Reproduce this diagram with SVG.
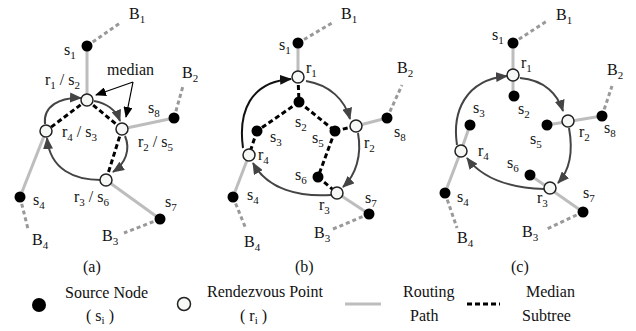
<svg xmlns="http://www.w3.org/2000/svg" width="636" height="331" viewBox="0 0 636 331">
<style>
text{font-family:"Liberation Serif","Times New Roman",serif;font-size:16px;fill:#111}
.sub{font-size:11px}
.route{stroke:#bdbdbd;stroke-width:3;fill:none}
.bline{stroke:#999;stroke-width:3;stroke-dasharray:4 3;fill:none}
.med{stroke:#000;stroke-width:3;stroke-dasharray:5 3;fill:none}
.arc{stroke:#444;stroke-width:2;fill:none;marker-end:url(#ah)}
.arcb{stroke:#111;stroke-width:2;fill:none;marker-end:url(#ahb)}
.src{fill:#000}
.rp{fill:#f6f8f6;stroke:#222;stroke-width:1.5}
.ptr{stroke:#000;stroke-width:1.2;fill:none;marker-end:url(#ahs)}
</style>
<defs>
<marker id="ah" markerUnits="userSpaceOnUse" markerWidth="12" markerHeight="10" refX="11" refY="5" orient="auto"><path d="M0,0 L12,5 L0,10 z" fill="#444"/></marker>
<marker id="ahb" markerUnits="userSpaceOnUse" markerWidth="12" markerHeight="10" refX="11" refY="5" orient="auto"><path d="M0,0 L12,5 L0,10 z" fill="#111"/></marker>
<marker id="ahs" markerUnits="userSpaceOnUse" markerWidth="11" markerHeight="9" refX="10" refY="4.5" orient="auto"><path d="M0,0 L11,4.5 L0,9 z" fill="#000"/></marker>
</defs>

<!-- connectors -->
<g id="connectors">
  <!-- panel a -->
  <line class="bline" x1="87" y1="46" x2="120" y2="23"/>
  <line class="bline" x1="174" y1="118" x2="183" y2="86"/>
  <line class="bline" x1="20" y1="197" x2="28" y2="229"/>
  <line class="bline" x1="160" y1="219" x2="124" y2="233"/>
  <line class="route" x1="87" y1="46" x2="87" y2="100"/>
  <line class="route" x1="122" y1="129" x2="174" y2="118"/>
  <line class="route" x1="46" y1="131" x2="20" y2="197"/>
  <line class="route" x1="106" y1="180" x2="160" y2="219"/>
  <line class="med" x1="87" y1="100" x2="46" y2="131"/>
  <line class="med" x1="87" y1="100" x2="122" y2="129"/>
  <line class="med" x1="122" y1="129" x2="106" y2="180"/>
  <path class="arc" d="M45 124 C43 106 60 97 81 98"/>
  <path class="arc" d="M94 101 C106 103 116 110 120 121"/>
  <path class="arc" d="M125 136 C131 150 125 164 113 172"/>
  <path class="arc" d="M101 180 C75 180 50 170 47 138"/>
  <path class="ptr" d="M133 82 L96 95"/>
  <path class="ptr" d="M133 82 L126 117"/>
  <!-- panel b -->
  <line class="bline" x1="298" y1="43" x2="332" y2="23"/>
  <line class="bline" x1="387" y1="118" x2="402" y2="85"/>
  <line class="bline" x1="233" y1="197" x2="246" y2="229"/>
  <line class="bline" x1="369" y1="214" x2="333" y2="229"/>
  <line class="route" x1="298" y1="43" x2="298" y2="77"/>
  <line class="route" x1="356" y1="126" x2="387" y2="118"/>
  <line class="route" x1="249" y1="155" x2="233" y2="197"/>
  <line class="route" x1="337" y1="193" x2="369" y2="214"/>
  <line class="med" x1="298" y1="77" x2="299" y2="102"/>
  <line class="med" x1="299" y1="102" x2="257" y2="131"/>
  <line class="med" x1="257" y1="131" x2="249" y2="155"/>
  <line class="med" x1="299" y1="102" x2="335" y2="131"/>
  <line class="med" x1="335" y1="131" x2="356" y2="126"/>
  <line class="med" x1="335" y1="131" x2="318" y2="177"/>
  <line class="med" x1="318" y1="177" x2="337" y2="193"/>
  <path class="arcb" d="M243 148 C238 112 250 82 291 79"/>
  <path class="arc" d="M306 81 C330 85 345 100 350 119"/>
  <path class="arc" d="M358 133 C362 155 356 175 343 187"/>
  <path class="arc" d="M331 195 C300 197 268 190 253 163"/>
  <!-- panel c -->
  <line class="bline" x1="513" y1="43" x2="547" y2="21"/>
  <line class="bline" x1="602" y1="116" x2="612" y2="86"/>
  <line class="bline" x1="445" y1="193" x2="457" y2="228"/>
  <line class="bline" x1="583" y1="212" x2="547" y2="229"/>
  <line class="route" x1="513" y1="43" x2="513" y2="96"/>
  <line class="route" x1="461" y1="151" x2="470" y2="125"/>
  <line class="route" x1="461" y1="151" x2="445" y2="193"/>
  <line class="route" x1="547" y1="125" x2="602" y2="116"/>
  <line class="route" x1="530" y1="175" x2="583" y2="212"/>
  <path class="arc" d="M457 145 C452 112 465 80 507 76"/>
  <path class="arc" d="M520 78 C545 80 558 95 563 111"/>
  <path class="arc" d="M569 128 C573 150 570 170 558 183"/>
  <path class="arc" d="M544 189 C510 188 482 178 467 158"/>
</g>

<!-- panel a nodes -->
<g id="a-s1"><circle class="src" cx="87" cy="46" r="5.5"/><text x="64" y="55">s<tspan class="sub" dy="4">1</tspan></text></g>
<g id="a-B1"><text x="129" y="19">B<tspan class="sub" dy="4">1</tspan></text></g>
<g id="a-r1"><circle class="rp" cx="87" cy="100" r="6"/><text x="45" y="85">r<tspan class="sub" dy="4">1</tspan><tspan dy="-4"> / s</tspan><tspan class="sub" dy="4">2</tspan></text></g>
<g id="a-median"><text x="107" y="75">median</text></g>
<g id="a-B2"><text x="182" y="78">B<tspan class="sub" dy="4">2</tspan></text></g>
<g id="a-s8"><circle class="src" cx="174" cy="118" r="5.5"/><text x="148" y="113">s<tspan class="sub" dy="4">8</tspan></text></g>
<g id="a-r2"><circle class="rp" cx="122" cy="129" r="6"/><text x="138" y="147">r<tspan class="sub" dy="4">2</tspan><tspan dy="-4"> / s</tspan><tspan class="sub" dy="4">5</tspan></text></g>
<g id="a-r4"><circle class="rp" cx="46" cy="131" r="6"/><text x="62" y="137">r<tspan class="sub" dy="4">4</tspan><tspan dy="-4"> / s</tspan><tspan class="sub" dy="4">3</tspan></text></g>
<g id="a-r3"><circle class="rp" cx="106" cy="180" r="6"/><text x="74" y="202">r<tspan class="sub" dy="4">3</tspan><tspan dy="-4"> / s</tspan><tspan class="sub" dy="4">6</tspan></text></g>
<g id="a-s4"><circle class="src" cx="20" cy="197" r="5.5"/><text x="33" y="205">s<tspan class="sub" dy="4">4</tspan></text></g>
<g id="a-B4"><text x="32" y="245">B<tspan class="sub" dy="4">4</tspan></text></g>
<g id="a-s7"><circle class="src" cx="160" cy="219" r="5.5"/><text x="165" y="207">s<tspan class="sub" dy="4">7</tspan></text></g>
<g id="a-B3"><text x="102" y="241">B<tspan class="sub" dy="4">3</tspan></text></g>
<g id="a-cap"><text x="83" y="272">(a)</text></g>

<!-- panel b nodes -->
<g id="b-s1"><circle class="src" cx="298" cy="43" r="5.5"/><text x="279" y="50">s<tspan class="sub" dy="4">1</tspan></text></g>
<g id="b-B1"><text x="341" y="19">B<tspan class="sub" dy="4">1</tspan></text></g>
<g id="b-r1"><circle class="rp" cx="298" cy="77" r="6"/><text x="306" y="73">r<tspan class="sub" dy="4">1</tspan></text></g>
<g id="b-s2"><circle class="src" cx="299" cy="102" r="5.5"/><text x="295" y="127">s<tspan class="sub" dy="4">2</tspan></text></g>
<g id="b-s3"><circle class="src" cx="257" cy="131" r="5.5"/><text x="270" y="142">s<tspan class="sub" dy="4">3</tspan></text></g>
<g id="b-s5"><circle class="src" cx="335" cy="131" r="5.5"/><text x="312" y="143">s<tspan class="sub" dy="4">5</tspan></text></g>
<g id="b-r2"><circle class="rp" cx="356" cy="126" r="6"/><text x="364" y="148">r<tspan class="sub" dy="4">2</tspan></text></g>
<g id="b-s8"><circle class="src" cx="387" cy="118" r="5.5"/><text x="394" y="137">s<tspan class="sub" dy="4">8</tspan></text></g>
<g id="b-B2"><text x="397" y="73">B<tspan class="sub" dy="4">2</tspan></text></g>
<g id="b-r4"><circle class="rp" cx="249" cy="155" r="6"/><text x="258" y="160">r<tspan class="sub" dy="4">4</tspan></text></g>
<g id="b-s6"><circle class="src" cx="318" cy="177" r="5.5"/><text x="295" y="180">s<tspan class="sub" dy="4">6</tspan></text></g>
<g id="b-r3"><circle class="rp" cx="337" cy="193" r="6"/><text x="319" y="210">r<tspan class="sub" dy="4">3</tspan></text></g>
<g id="b-s7"><circle class="src" cx="369" cy="214" r="5.5"/><text x="365" y="203">s<tspan class="sub" dy="4">7</tspan></text></g>
<g id="b-B3"><text x="314" y="238">B<tspan class="sub" dy="4">3</tspan></text></g>
<g id="b-s4"><circle class="src" cx="233" cy="197" r="5.5"/><text x="247" y="200">s<tspan class="sub" dy="4">4</tspan></text></g>
<g id="b-B4"><text x="244" y="247">B<tspan class="sub" dy="4">4</tspan></text></g>
<g id="b-cap"><text x="295" y="272">(b)</text></g>

<!-- panel c nodes -->
<g id="c-s1"><circle class="src" cx="513" cy="43" r="5.5"/><text x="492" y="40">s<tspan class="sub" dy="4">1</tspan></text></g>
<g id="c-B1"><text x="556" y="20">B<tspan class="sub" dy="4">1</tspan></text></g>
<g id="c-r1"><circle class="rp" cx="513" cy="75" r="6"/><text x="521" y="68">r<tspan class="sub" dy="4">1</tspan></text></g>
<g id="c-s2"><circle class="src" cx="514" cy="96" r="5.5"/><text x="518" y="114">s<tspan class="sub" dy="4">2</tspan></text></g>
<g id="c-s3"><circle class="src" cx="470" cy="125" r="5.5"/><text x="473" y="113">s<tspan class="sub" dy="4">3</tspan></text></g>
<g id="c-s5"><circle class="src" cx="547" cy="125" r="5.5"/><text x="530" y="144">s<tspan class="sub" dy="4">5</tspan></text></g>
<g id="c-r2"><circle class="rp" cx="568" cy="121" r="6"/><text x="579" y="137">r<tspan class="sub" dy="4">2</tspan></text></g>
<g id="c-s8"><circle class="src" cx="602" cy="116" r="5.5"/><text x="604" y="133">s<tspan class="sub" dy="4">8</tspan></text></g>
<g id="c-B2"><text x="607" y="75">B<tspan class="sub" dy="4">2</tspan></text></g>
<g id="c-r4"><circle class="rp" cx="461" cy="151" r="6"/><text x="478" y="156">r<tspan class="sub" dy="4">4</tspan></text></g>
<g id="c-s6"><circle class="src" cx="530" cy="175" r="5.5"/><text x="507" y="168">s<tspan class="sub" dy="4">6</tspan></text></g>
<g id="c-r3"><circle class="rp" cx="550" cy="188" r="6"/><text x="537" y="203">r<tspan class="sub" dy="4">3</tspan></text></g>
<g id="c-s7"><circle class="src" cx="583" cy="212" r="5.5"/><text x="583" y="198">s<tspan class="sub" dy="4">7</tspan></text></g>
<g id="c-B3"><text x="522" y="237">B<tspan class="sub" dy="4">3</tspan></text></g>
<g id="c-s4"><circle class="src" cx="445" cy="193" r="5.5"/><text x="457" y="202">s<tspan class="sub" dy="4">4</tspan></text></g>
<g id="c-B4"><text x="457" y="243">B<tspan class="sub" dy="4">4</tspan></text></g>
<g id="c-cap"><text x="511" y="272">(c)</text></g>

<!-- legend -->
<g id="legend-source"><circle class="src" cx="39" cy="305" r="7"/><text x="65" y="298">Source Node</text><text x="86" y="321">( s<tspan class="sub" dy="3">i</tspan><tspan dy="-3"> )</tspan></text></g>
<g id="legend-rp"><circle class="rp" cx="184" cy="304" r="6.5"/><text x="207" y="297">Rendezvous Point</text><text x="240" y="321">( r<tspan class="sub" dy="3">i</tspan><tspan dy="-3"> )</tspan></text></g>
<g id="legend-route"><line class="route" x1="345" y1="304" x2="381" y2="304"/><text x="403" y="297">Routing</text><text x="410" y="321">Path</text></g>
<g id="legend-median"><line x1="467" y1="304" x2="500" y2="304" stroke="#000" stroke-width="3" stroke-dasharray="5 3"/><text x="526" y="297">Median</text><text x="522" y="321">Subtree</text></g>
</svg>
